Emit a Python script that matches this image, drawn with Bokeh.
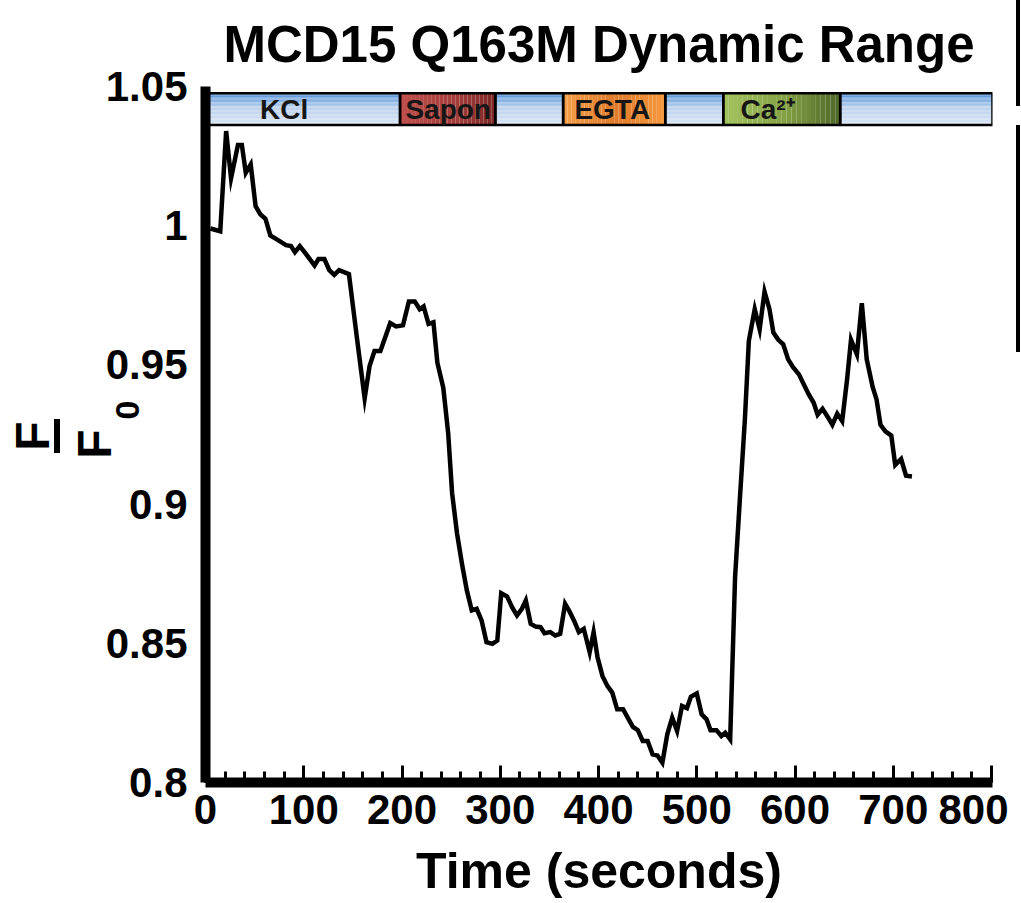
from bokeh.plotting import figure
from bokeh.layouts import row
from bokeh.models import (Range1d, FixedTicker, ColumnDataSource, Div)
from bokeh.core.properties import value
from bokeh.embed import file_html
from bokeh.resources import INLINE

# ---------------- data ----------------
time_s = [5, 15, 21, 26, 33, 37, 41, 46, 51, 56, 61, 66, 73, 82, 87, 91, 96, 102, 111, 115,
          121, 126, 131, 136, 146, 154, 162, 167, 172, 178, 188, 194, 201, 207, 213, 218, 222,
          227, 232, 236, 242, 247, 251, 256, 261, 266, 271, 276, 281, 286, 292, 297, 301, 307,
          312, 317, 322, 326, 331, 336, 341, 345, 351, 356, 361, 366, 370, 375, 380, 385, 391,
          395, 399, 404, 409, 414, 419, 425, 430, 435, 440, 445, 450, 455, 460, 465, 470, 475,
          480, 485, 490, 494, 500, 505, 510, 514, 520, 525, 529, 534, 539, 544, 549, 553, 559,
          564, 569, 574, 578, 583, 588, 593, 598, 604, 609, 614, 619, 623, 628, 633, 638, 643,
          648, 653, 657, 663, 668, 673, 679, 683, 687, 692, 698, 702, 708, 713, 719]
f_over_f0 = [0.999, 0.998, 1.034, 1.017, 1.029, 1.029, 1.019, 1.022, 1.007, 1.004, 1.0025,
             0.9965, 0.995, 0.993, 0.9927, 0.9905, 0.9927, 0.990, 0.9857, 0.988, 0.988, 0.984,
             0.9823, 0.984, 0.9826, 0.960, 0.938, 0.9496, 0.955, 0.955, 0.965, 0.9638, 0.9642,
             0.9728, 0.9728, 0.970, 0.971, 0.9647, 0.9653, 0.9508, 0.9418, 0.9255, 0.9039,
             0.8895, 0.8786, 0.869, 0.8618, 0.8624, 0.8582, 0.8504, 0.8498, 0.851, 0.868,
             0.8668, 0.863, 0.860, 0.8624, 0.8654, 0.857, 0.856, 0.8558, 0.8536, 0.854, 0.8528,
             0.8534, 0.8642, 0.8618, 0.8582, 0.854, 0.8552, 0.8468, 0.854, 0.845, 0.8383,
             0.8347, 0.8323, 0.8263, 0.8263, 0.8231, 0.820, 0.8188, 0.8149, 0.8149, 0.8101,
             0.8097, 0.8071, 0.8173, 0.8233, 0.8185, 0.8275, 0.8267, 0.8308, 0.832, 0.8245,
             0.8227, 0.8188, 0.8188, 0.8167, 0.8179, 0.8155, 0.8738, 0.9025, 0.9305, 0.9586,
             0.970, 0.9628, 0.9763, 0.970, 0.9616, 0.959, 0.9574, 0.952, 0.9492, 0.9466, 0.943,
             0.9394, 0.9364, 0.9321, 0.9342, 0.9315, 0.9285, 0.9325, 0.9298, 0.9448, 0.959,
             0.9538, 0.9722, 0.952, 0.9421, 0.9376, 0.9285, 0.9261, 0.9246, 0.9141, 0.9162,
             0.9102, 0.9099]

# treatment band segments (seconds)
band_start = [0, 198, 295, 364, 468, 527, 646]
band_end = [198, 295, 364, 468, 527, 646, 801]
band_kind = ["buffer", "sapon", "buffer", "egta", "buffer", "ca", "buffer"]
band_labels = ["KCl", "Sapon", "EGTA", "Ca²⁺"]
band_label_x = [80, 247, 414, 572]

x_ticks = [0, 100, 200, 300, 400, 500, 600, 700, 800]
y_ticks = [0.8, 0.85, 0.9, 0.95, 1.0, 1.05]
y_tick_labels = ["0.8", "0.85", "0.9", "0.95", "1", "1.05"]

# ---------------- style ----------------
FONT = "Liberation Sans"
BAND_BOTTOM = 1.0362
BAND_TOP = 1.0476

GRADIENTS = {
    "buffer": ("v", [(0.0, "#4a8cd6"), (0.45, "#bcd2ee"), (1.0, "#d9e4f4")]),
    "sapon": ("h", [(0.0, "#c0504d"), (0.6, "#a33d3a"), (1.0, "#7b2725")]),
    "egta": ("h", [(0.0, "#f5a04a"), (0.5, "#df7a2a"), (1.0, "#f59a3e")]),
    "ca": ("h", [(0.0, "#a3c35e"), (0.5, "#86a446"), (1.0, "#4e6628")]),
}


def hex2rgb(h):
    h = h.lstrip("#")
    return [int(h[i:i + 2], 16) for i in (0, 2, 4)]


def interp(stops, f):
    for (f0, c0), (f1, c1) in zip(stops[:-1], stops[1:]):
        if f0 <= f <= f1:
            r = 0 if f1 == f0 else (f - f0) / (f1 - f0)
            a, b = hex2rgb(c0), hex2rgb(c1)
            return "#%02x%02x%02x" % tuple(int(round(a[i] + (b[i] - a[i]) * r)) for i in range(3))
    return stops[-1][1]


q = dict(left=[], right=[], top=[], bottom=[], color=[])
N = 24
for s, e, k in zip(band_start, band_end, band_kind):
    orient, stops = GRADIENTS[k]
    for i in range(N):
        f = (i + 0.5) / N
        c = interp(stops, f)
        if orient == "v":
            top = BAND_TOP - (BAND_TOP - BAND_BOTTOM) * i / N
            bot = BAND_TOP - (BAND_TOP - BAND_BOTTOM) * (i + 1) / N
            q["left"].append(s); q["right"].append(e)
            q["top"].append(top); q["bottom"].append(bot)
        else:
            l = s + (e - s) * i / N
            r = s + (e - s) * (i + 1) / N
            q["left"].append(l); q["right"].append(r)
            q["top"].append(BAND_TOP); q["bottom"].append(BAND_BOTTOM)
        q["color"].append(c)

p = figure(width=1008, height=903, output_backend="svg", toolbar_location=None,
           x_range=Range1d(0, 801), y_range=Range1d(0.8, 1.05),
           min_border_left=205, min_border_right=16, min_border_top=85, min_border_bottom=121,
           background_fill_color="white", border_fill_color="white", outline_line_color=None)
p.grid.visible = False

p.title.text = "MCD15 Q163M Dynamic Range"
p.title.text_font = FONT
p.title.text_font_size = "51px"
p.title.text_font_style = "bold"
p.title.align = "center"
p.title.text_color = "black"
p.title.standoff = 27

# bands
p.quad(left="left", right="right", top="top", bottom="bottom", color="color",
       source=ColumnDataSource(q), line_color=None)
p.quad(left=band_start, right=band_end, top=BAND_TOP, bottom=BAND_BOTTOM,
       fill_alpha=0, line_color="black", line_width=2.5)
p.text(x=band_label_x, y=[(BAND_TOP + BAND_BOTTOM) / 2] * len(band_label_x), text=band_labels,
       text_font=value(FONT), text_font_style="bold", text_font_size="28px",
       text_align="center", text_baseline="middle", text_color="#161616")

# data line
p.line(time_s, f_over_f0, line_color="black", line_width=4.5, line_join="miter")

# axes
xa = p.xaxis[0]
xa.ticker = FixedTicker(ticks=x_ticks, minor_ticks=list(range(0, 801, 20)))
xa.axis_line_width = 10
xa.axis_line_color = "black"
xa.major_tick_in = 17
xa.major_tick_out = 0
xa.minor_tick_in = 11
xa.minor_tick_out = 0
xa.major_tick_line_width = 3
xa.minor_tick_line_width = 3
xa.major_label_text_font = FONT
xa.major_label_text_font_size = "42px"
xa.major_label_text_font_style = "bold"
xa.major_label_text_color = "black"
xa.major_label_standoff = 12
xa.axis_label = "Time (seconds)"
xa.axis_label_text_font = FONT
xa.axis_label_text_font_size = "50px"
xa.axis_label_text_font_style = "bold"
xa.axis_label_text_color = "black"
xa.axis_label_standoff = 16

ya = p.yaxis[0]
ya.ticker = FixedTicker(ticks=y_ticks)
ya.major_label_overrides = {t: l for t, l in zip(y_ticks, y_tick_labels)}
ya.axis_line_width = 10
ya.axis_line_color = "black"
ya.major_tick_in = 0
ya.major_tick_out = 0
ya.minor_tick_in = 0
ya.minor_tick_out = 0
ya.major_label_text_font = FONT
ya.major_label_text_font_size = "42px"
ya.major_label_text_font_style = "bold"
ya.major_label_text_color = "black"
ya.major_label_standoff = 18

# y-axis title: the fraction F / F0, rotated, overlaid left of the tick labels
rot = ("position:absolute;transform:translate(-50%,-50%) rotate(-90deg);"
       "line-height:1;white-space:nowrap;color:#000;")
ylabel = Div(width=0, height=903, margin=0,
             styles={"position": "absolute", "left": "0px", "top": "0px",
                     "z-index": "10", "overflow": "visible"},
             text=('<div style="position:absolute;left:0px;top:0px;width:150px;height:903px;'
                   "font-family:'Liberation Sans',Arial,sans-serif;font-weight:bold;"
                   'pointer-events:none;">'
                   f'<span style="{rot}left:33px;top:436px;font-size:48px;">F</span>'
                   '<div style="position:absolute;left:54px;top:419px;width:6px;height:34px;'
                   'background:#000;"></div>'
                   f'<span style="{rot}left:95px;top:444px;font-size:48px;">F</span>'
                   f'<span style="{rot}left:127px;top:410px;font-size:34px;">0</span>'
                   '</div>'))

# thin strip at right with the cropped neighbour-panel edges
side = Div(width=13, height=903, margin=0,
           text=('<div style="position:relative;width:13px;height:903px;">'
                 '<div style="position:absolute;left:8px;top:0px;width:4px;height:106px;background:#000;"></div>'
                 '<div style="position:absolute;left:8px;top:125px;width:4px;height:227px;background:#000;"></div>'
                 '</div>'))

layout = row(ylabel, p, side, spacing=0)
open("out.html", "w").write(file_html(layout, INLINE))
